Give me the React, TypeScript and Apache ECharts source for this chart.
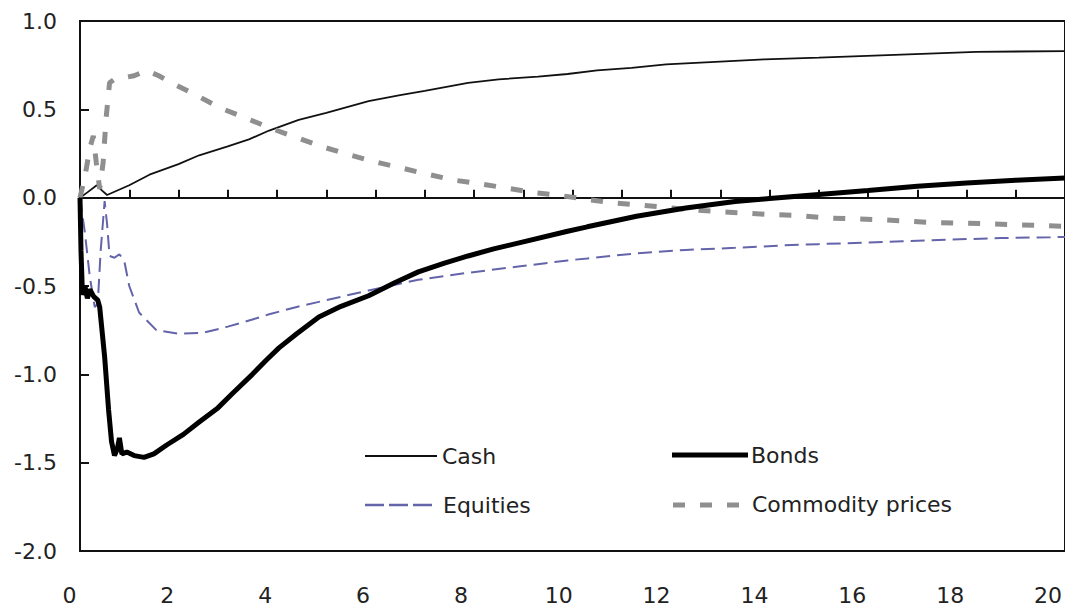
import React, { useEffect, useRef } from "react";
import * as echarts from "echarts";

const FONT = "DejaVu Sans";

// Y axis ticks / x axis labels
const yTicks = [-2.0, -1.5, -1.0, -0.5, 0.0, 0.5, 1.0];
const xLabelValues = [0, 2, 4, 6, 8, 10, 12, 14, 16, 18, 20];

// Cash
const cashYears = [0, 0.15, 0.34, 0.45, 0.55, 1.0, 1.41, 2.0, 2.42, 3.0, 3.43, 3.84, 4.44, 5.0, 5.86, 6.5, 7.0, 7.88, 8.5, 9.3, 9.9, 10.5, 11.2, 11.9, 12.8, 13.9, 15.0, 16.4, 18.2, 20];
const cashValues = [0, 0.03, 0.07, 0.04, 0.015, 0.07, 0.13, 0.19, 0.24, 0.29, 0.33, 0.38, 0.44, 0.48, 0.547, 0.58, 0.605, 0.65, 0.67, 0.685, 0.70, 0.72, 0.735, 0.754, 0.767, 0.783, 0.793, 0.807, 0.825, 0.83];

// Bonds
const bondsYears = [0, 0.02, 0.05, 0.1, 0.15, 0.2, 0.28, 0.36, 0.4, 0.5, 0.58, 0.64, 0.7, 0.76, 0.8, 0.85, 0.95, 1.1, 1.3, 1.5, 1.76, 2.1, 2.42, 2.8, 3.09, 3.5, 3.78, 4.04, 4.4, 4.85, 5.3, 5.86, 6.4, 6.87, 7.4, 7.88, 8.4, 9.0, 9.9, 10.3, 11.3, 12.3, 13.3, 14.0, 15, 16, 17, 18, 19, 20];
const bondsValues = [0, -0.3, -0.55, -0.5, -0.57, -0.52, -0.56, -0.58, -0.62, -0.9, -1.2, -1.38, -1.46, -1.42, -1.36, -1.45, -1.44, -1.46, -1.47, -1.45, -1.40, -1.34, -1.27, -1.19, -1.11, -1.0, -0.92, -0.85, -0.77, -0.675, -0.615, -0.555, -0.48, -0.42, -0.37, -0.33, -0.29, -0.25, -0.19, -0.165, -0.105, -0.058, -0.022, -0.005, 0.018, 0.04, 0.064, 0.083, 0.098, 0.112];

// Equities
const equitiesYears = [0, 0.1, 0.2, 0.3, 0.36, 0.42, 0.5, 0.55, 0.6, 0.7, 0.8, 0.9, 1.0, 1.2, 1.55, 2.0, 2.5, 3.0, 3.5, 3.84, 4.38, 4.85, 5.86, 6.87, 7.88, 8.9, 9.9, 10.3, 11.3, 12.3, 13.3, 14.3, 15, 16.7, 17.7, 18.7, 19.7, 20];
const equitiesValues = [0, -0.2, -0.45, -0.62, -0.6, -0.3, -0.02, -0.15, -0.33, -0.34, -0.32, -0.36, -0.5, -0.65, -0.75, -0.77, -0.765, -0.73, -0.69, -0.66, -0.62, -0.59, -0.525, -0.465, -0.425, -0.39, -0.355, -0.344, -0.315, -0.296, -0.284, -0.27, -0.263, -0.247, -0.237, -0.229, -0.224, -0.222];

// Commodity prices
const commodityYears = [0, 0.1, 0.2, 0.27, 0.33, 0.4, 0.47, 0.53, 0.6, 0.7, 0.9, 1.1, 1.35, 1.6, 1.86, 2.36, 2.83, 3.37, 3.9, 4.34, 4.9, 5.4, 5.96, 6.5, 7.03, 7.58, 8.12, 8.65, 9.19, 9.73, 10.3, 10.85, 11.3, 11.9, 12.5, 13, 13.5, 14, 14.5, 15.15, 16.2, 17.27, 18.3, 19.45, 20];
const commodityValues = [0, 0.12, 0.28, 0.35, 0.2, 0.05, 0.2, 0.45, 0.65, 0.67, 0.68, 0.69, 0.72, 0.69, 0.65, 0.58, 0.51, 0.45, 0.39, 0.346, 0.29, 0.248, 0.205, 0.17, 0.134, 0.10, 0.078, 0.055, 0.03, 0.013, -0.01, -0.03, -0.04, -0.055, -0.07, -0.08, -0.087, -0.095, -0.1, -0.115, -0.124, -0.14, -0.147, -0.157, -0.162];

const seriesNames = ["Cash", "Bonds", "Equities", "Commodity prices"];

const toPairs = (xs: number[], ys: number[]) => xs.map((x, i) => [x, ys[i]]);

export default function App() {
  const ref = useRef<HTMLDivElement>(null);

  useEffect(() => {
    if (!ref.current) return;
    const chart = echarts.init(ref.current, null, { renderer: "svg" });
    const textStyle = { fontFamily: FONT, fontSize: 22, color: "#222" };
    const option: any = {
      animation: false,
      backgroundColor: "#fff",
      grid: [
        { left: 80, top: 21, width: 990, height: 530, show: true, borderColor: "#111", borderWidth: 2, backgroundColor: "transparent" },
        { left: 69.5, top: 21, width: 982, height: 530, show: false },
      ],
      xAxis: [
        {
          type: "value", gridIndex: 0, min: 0, max: 20, interval: 1,
          axisLine: { show: true, onZero: true, lineStyle: { color: "#111", width: 2 } },
          axisTick: { show: true, inside: true, length: 8, lineStyle: { color: "#111", width: 2 } },
          axisLabel: { show: false },
          splitLine: { show: false },
        },
        {
          type: "value", gridIndex: 1, min: 0, max: 20, interval: 2,
          axisLine: { show: false, onZero: false },
          axisTick: { show: false },
          splitLine: { show: false },
          axisLabel: {
            ...textStyle, margin: 33,
            customValues: xLabelValues,
            formatter: (v: number) => String(v),
          },
        },
      ],
      yAxis: [
        {
          type: "value", gridIndex: 0, min: -2, max: 1, interval: 0.5,
          axisLine: { show: false },
          axisTick: { show: true, inside: true, length: 9, lineStyle: { color: "#111", width: 2 } },
          splitLine: { show: false },
          axisLabel: {
            ...textStyle, margin: 23,
            formatter: (v: number) => (yTicks.includes(v) ? v.toFixed(1) : ""),
          },
        },
        { type: "value", gridIndex: 1, min: 0, max: 1, show: false },
      ],
      series: [
        {
          name: seriesNames[0], type: "line", xAxisIndex: 0, yAxisIndex: 0,
          data: toPairs(cashYears, cashValues), symbol: "none", showSymbol: false,
          lineStyle: { color: "#111", width: 1.8 }, z: 3,
        },
        {
          name: seriesNames[2], type: "line", xAxisIndex: 0, yAxisIndex: 0,
          data: toPairs(equitiesYears, equitiesValues), symbol: "none", showSymbol: false,
          lineStyle: { color: "#6464aa", width: 2, type: [14, 7] }, z: 3,
        },
        {
          name: seriesNames[3], type: "line", xAxisIndex: 0, yAxisIndex: 0,
          data: toPairs(commodityYears, commodityValues), symbol: "none", showSymbol: false,
          lineStyle: { color: "#8f8f8f", width: 5, type: [12, 15], cap: "butt" }, z: 4,
        },
        {
          name: seriesNames[1], type: "line", xAxisIndex: 0, yAxisIndex: 0,
          data: toPairs(bondsYears, bondsValues), symbol: "none", showSymbol: false,
          lineStyle: { color: "#000", width: 5 }, z: 5,
        },
      ],
      graphic: [
        { type: "line", shape: { x1: 365, y1: 456, x2: 437, y2: 456 }, style: { stroke: "#111", lineWidth: 1.8 } },
        { type: "text", x: 442, y: 456, style: { text: seriesNames[0], font: `22px "${FONT}"`, fill: "#222", verticalAlign: "middle" } },
        { type: "line", shape: { x1: 672, y1: 455, x2: 748, y2: 455 }, style: { stroke: "#000", lineWidth: 5 } },
        { type: "text", x: 751, y: 455, style: { text: seriesNames[1], font: `22px "${FONT}"`, fill: "#222", verticalAlign: "middle" } },
        { type: "line", shape: { x1: 365, y1: 505, x2: 433, y2: 505 }, style: { stroke: "#6464aa", lineWidth: 2.5, lineDash: [19, 5] } },
        { type: "text", x: 443, y: 505, style: { text: seriesNames[2], font: `22px "${FONT}"`, fill: "#222", verticalAlign: "middle" } },
        { type: "line", shape: { x1: 673, y1: 505, x2: 740, y2: 505 }, style: { stroke: "#8f8f8f", lineWidth: 5, lineDash: [12, 15] } },
        { type: "text", x: 752, y: 504, style: { text: seriesNames[3], font: `22px "${FONT}"`, fill: "#222", verticalAlign: "middle" } },
      ],
    };
    chart.setOption(option);
    return () => chart.dispose();
  }, []);

  return (
    <div
      ref={ref}
      style={{ position: "fixed", left: 0, top: 0, width: 1065, height: 607, background: "#fff" }}
    />
  );
}
